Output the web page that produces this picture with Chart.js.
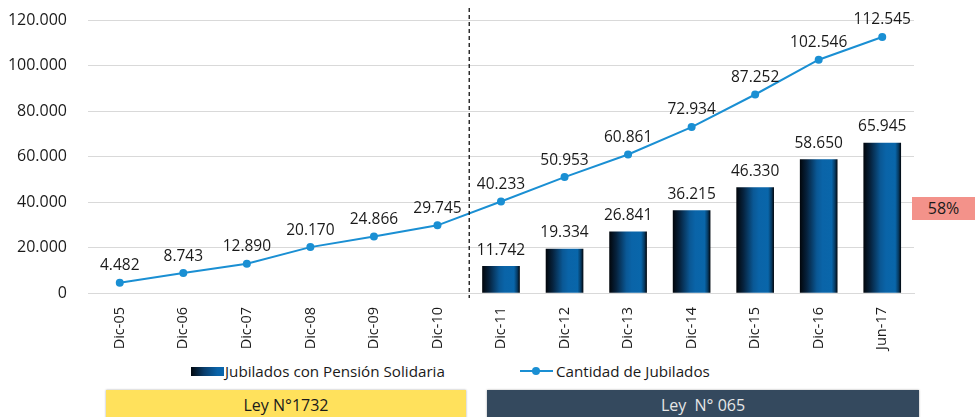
<!DOCTYPE html>
<html>
<head>
<meta charset="utf-8">
<script src="https://cdn.jsdelivr.net/npm/chart.js@4/dist/chart.umd.min.js"></script>
<style>
  html, body { margin: 0; padding: 0; background: #fff; }
  body { width: 975px; height: 417px; position: relative; overflow: hidden; font-family: "Open Sans", sans-serif; }
  #c { position: absolute; left: 0; top: 0; }
  .leg { position: absolute; top: 361px; font-size: 15.2px; color: #1a1a1a; line-height: 20px; white-space: nowrap; }
  .legbox { position: absolute; left: 191px; top: 367px; width: 33px; height: 9px; background: linear-gradient(to right, #02080f 0%, #0a3e6c 40%, #0a63a8 80%, #0a66ad 100%); }
  .legline { position: absolute; left: 520px; top: 370px; width: 33px; height: 2px; background: #1a8fd3; }
  .legdot { position: absolute; left: 532px; top: 367px; width: 8px; height: 8px; border-radius: 50%; background: #1a8fd3; }
  .box { position: absolute; top: 390px; height: 30px; line-height: 30px; text-align: center; font-size: 16px; box-shadow: 0 0 2px rgba(0,0,0,0.35); }
  .pct { position: absolute; left: 912px; top: 197px; width: 63px; height: 23px; background: #f3928a; color: #1a1a1a; font-size: 16px; line-height: 23px; text-align: center; }
</style>
</head>
<body>
<canvas id="c" width="975" height="360"></canvas>
<div class="legbox"></div>
<div class="leg" style="left:225px;">Jubilados con Pensión Solidaria</div>
<div class="legline"></div>
<div class="legdot"></div>
<div class="leg" style="left:556px;">Cantidad de Jubilados</div>
<div class="box" style="left:106px; width:360px; background:#ffe15c; color:#1a1a1a;">Ley N°1732</div>
<div class="box" style="left:487px; width:432px; background:#34495e; color:#e6e6e6;">Ley&nbsp; N° 065</div>
<div class="pct">58%</div>
<script>
const categories = ["Dic-05","Dic-06","Dic-07","Dic-08","Dic-09","Dic-10","Dic-11","Dic-12","Dic-13","Dic-14","Dic-15","Dic-16","Jun-17"];
const pensionSolidaria = [null,null,null,null,null,null,11742,19334,26841,36215,46330,58650,65945];
const cantidadJubilados = [4482,8743,12890,20170,24866,29745,40233,50953,60861,72934,87252,102546,112545];
const yTicks = [0,20000,40000,60000,80000,100000,120000];
const BAR_W = 37;

function fmt(v){ return String(Math.round(v)).replace(/\B(?=(\d{3})+(?!\d))/g, "."); }

function barFill(c) {
  const chart = c.chart;
  const xs = chart.scales && chart.scales.x;
  if (!xs || c.dataIndex == null) return '#0a64a8';
  const cx = xs.getPixelForValue(c.dataIndex);
  if (!isFinite(cx)) return '#0a64a8';
  const g = chart.ctx.createLinearGradient(cx - BAR_W/2, 0, cx + BAR_W/2, 0);
  g.addColorStop(0, '#02070d');
  g.addColorStop(0.18, '#06223d');
  g.addColorStop(0.45, '#0a5895');
  g.addColorStop(0.6, '#0a64a8');
  g.addColorStop(0.85, '#0966aa');
  g.addColorStop(0.94, '#063a62');
  g.addColorStop(1, '#020b14');
  return g;
}

const labelsPlugin = {
  id: 'valueLabels',
  afterDatasetsDraw(chart) {
    const ctx = chart.ctx;
    ctx.save();
    ctx.font = '15.5px "Open Sans"';
    ctx.fillStyle = '#1a1a1a';
    ctx.textAlign = 'center';
    ctx.textBaseline = 'middle';
    chart.data.datasets.forEach((ds, di) => {
      const meta = chart.getDatasetMeta(di);
      meta.data.forEach((el, i) => {
        const v = ds.data[i];
        if (v == null) return;
        const off = ds.type === 'line' ? 17 : 16;
        ctx.fillText(fmt(v), el.x, el.y - off);
      });
    });
    ctx.restore();
  }
};

const dividerPlugin = {
  id: 'divider',
  afterDraw(chart) {
    const xs = chart.scales.x;
    const x = (xs.getPixelForValue(5) + xs.getPixelForValue(6)) / 2;
    const ctx = chart.ctx;
    ctx.save();
    ctx.strokeStyle = '#111';
    ctx.lineWidth = 1.3;
    ctx.setLineDash([4, 3]);
    ctx.beginPath();
    ctx.moveTo(x, 8);
    ctx.lineTo(x, 298);
    ctx.stroke();
    ctx.restore();
  }
};

new Chart(document.getElementById('c'), {
  data: {
    labels: categories,
    datasets: [
      {
        type: 'line',
        label: 'Cantidad de Jubilados',
        data: cantidadJubilados,
        borderColor: '#1a8fd3',
        backgroundColor: '#1a8fd3',
        borderWidth: 2,
        pointRadius: 4,
        pointBackgroundColor: '#1a8fd3',
        pointBorderWidth: 0,
        tension: 0,
        order: 0
      },
      {
        type: 'bar',
        label: 'Jubilados con Pensión Solidaria',
        data: pensionSolidaria,
        backgroundColor: barFill,
        barThickness: BAR_W,
        order: 1
      }
    ]
  },
  options: {
    responsive: false,
    animation: false,
    layout: { padding: { top: 20, right: 61, left: 0, bottom: 0 } },
    plugins: { legend: { display: false }, tooltip: { enabled: false } },
    scales: {
      y: {
        min: 0, max: 120000,
        afterFit(s) { s.width = 88; },
        afterBuildTicks(s) { s.ticks = yTicks.map(v => ({ value: v })); },
        ticks: { callback: v => fmt(v), padding: 0, color: '#1a1a1a', font: { family: 'Open Sans', size: 16 } },
        grid: { color: '#d9d9d9', drawTicks: true, tickLength: 21, tickColor: 'rgba(0,0,0,0)' },
        border: { display: false }
      },
      x: {
        afterFit(s) { s.height = 67; },
        ticks: { minRotation: 90, maxRotation: 90, padding: 6, color: '#1a1a1a', font: { family: 'Open Sans', size: 14.5 } },
        grid: { display: false },
        border: { color: '#d9d9d9' }
      }
    }
  },
  plugins: [labelsPlugin, dividerPlugin]
});
</script>
</body>
</html>
